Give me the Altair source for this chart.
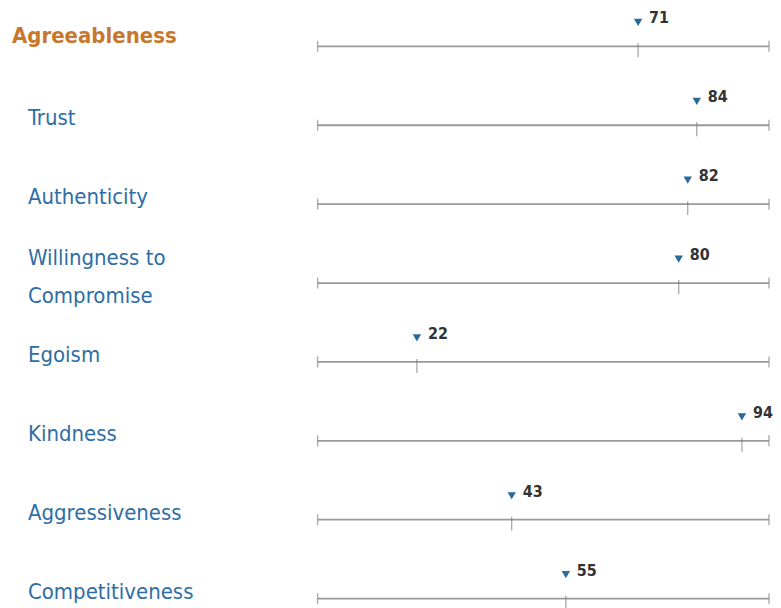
import altair as alt
import pandas as pd

categories = ["Agreeableness", "Trust", "Authenticity", "Willingness to\nCompromise",
              "Egoism", "Kindness", "Aggressiveness", "Competitiveness"]
values = [71, 84, 82, 80, 22, 94, 43, 55]
is_header = [True, False, False, False, False, False, False, False]

df = pd.DataFrame({
    "row": list(range(len(categories))),
    "category": categories,
    "value": values,
    "header": is_header,
    "lo": [0] * len(categories),
    "hi": [100] * len(categories),
})

FONT = "DejaVu Sans Condensed, Liberation Sans Narrow, sans-serif"
xs = alt.Scale(domain=[0, 100], range=[310, 762])
ys = alt.Scale(domain=[0, 7], range=[38, 591])

base = alt.Chart(df)
Y = alt.Y("row:Q", scale=ys, axis=None)

line = base.mark_rule(color="#999999", strokeWidth=1.8).encode(
    x=alt.X("lo:Q", scale=xs, axis=None), x2="hi:Q", y=Y)

end0 = base.mark_tick(color="#8a8a8a", size=11, thickness=1.4, orient="vertical").encode(
    x=alt.X("lo:Q", scale=xs, axis=None), y=Y)
end1 = base.mark_tick(color="#8a8a8a", size=11, thickness=1.4, orient="vertical").encode(
    x=alt.X("hi:Q", scale=xs, axis=None), y=Y)
vtick = base.mark_tick(color="#777777", size=14, thickness=1.2, orient="vertical", yOffset=4).encode(
    x=alt.X("value:Q", scale=xs, axis=None), y=Y)

tri = base.mark_point(shape="triangle-down", filled=True, size=70, color="#2a6a99",
                      opacity=1, yOffset=-24).encode(
    x=alt.X("value:Q", scale=xs, axis=None), y=Y)

vals = base.mark_text(font=FONT, fontSize=16, fontWeight="bold", color="#333333",
                      align="left", baseline="middle", dx=11, yOffset=-28).encode(
    x=alt.X("value:Q", scale=xs, axis=None), y=Y, text="value:Q")

hdr = base.transform_filter("datum.header").mark_text(
    font=FONT, fontSize=22, fontWeight="bold", color="#c8782e",
    align="left", baseline="middle", yOffset=-10).encode(
    x=alt.value(4), y=Y, text="category:N")

lbl = base.transform_filter("!datum.header && indexof(datum.category, '\\n') < 0").mark_text(
    font=FONT, fontSize=22, color="#2d6ea6", align="left", baseline="middle",
    yOffset=-7).encode(
    x=alt.value(20), y=Y, text="category:N")

lbl2 = base.transform_filter("indexof(datum.category, '\\n') >= 0").mark_text(
    font=FONT, fontSize=22, color="#2d6ea6", align="left", baseline="middle",
    yOffset=-25, lineBreak="\n", lineHeight=38).encode(
    x=alt.value(20), y=Y, text="category:N")

chart = alt.layer(line, end0, end1, vtick, tri, vals, hdr, lbl, lbl2).properties(
    width=765, height=592, padding=0, background="#ffffff"
).configure_view(stroke=None)

chart.save("out.html", embed_options={"renderer": "svg", "actions": False})
